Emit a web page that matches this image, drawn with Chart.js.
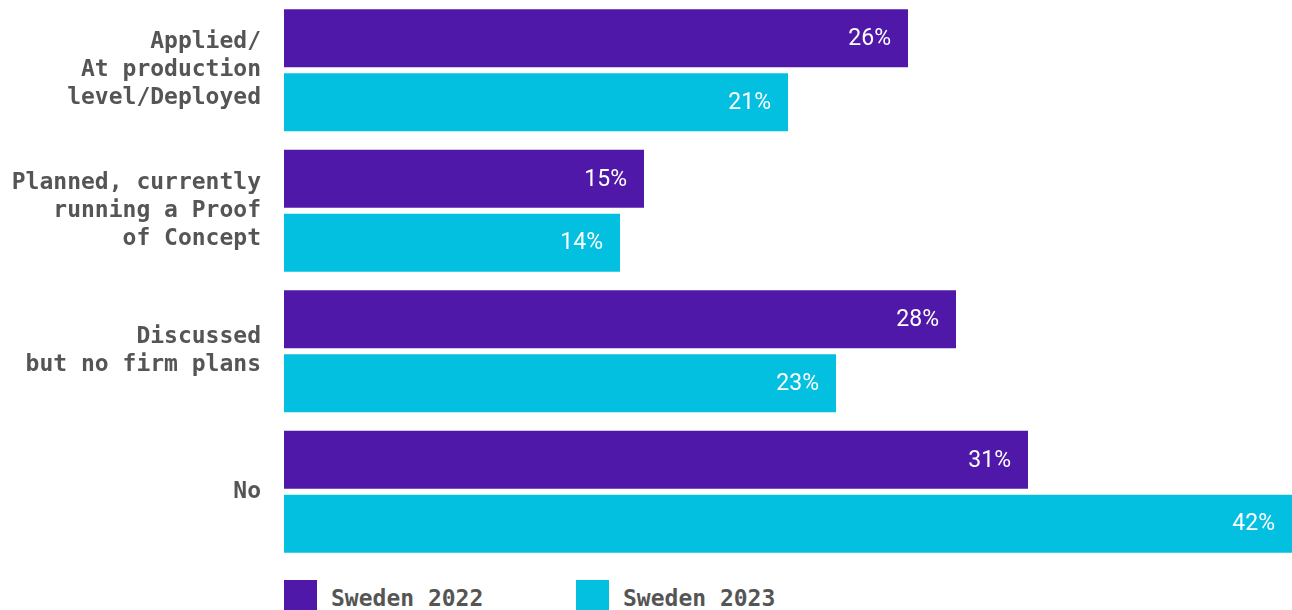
<!DOCTYPE html>
<html>
<head>
<meta charset="utf-8">
<script src="https://cdn.jsdelivr.net/npm/chart.js@4"></script>
<style>
  html, body { margin: 0; padding: 0; background: #fff; }
  #wrap { position: relative; width: 1292px; height: 610px; overflow: hidden; }
  #box { position: absolute; left: 0; top: 0; width: 1292px; height: 562px; }
  #legend { position: absolute; left: 284px; top: 580px; display: flex; }
  .item { display: flex; align-items: flex-start; }
  .swatch { width: 33px; height: 33px; }
  .txt { font: bold 23px 'DejaVu Sans Mono', monospace; color: #555; margin-left: 14px; line-height: 33px; margin-top: 2px; }
</style>
</head>
<body>
<div id="wrap">
  <div id="box"><canvas id="chart"></canvas></div>
  <div id="legend"></div>
</div>
<script>
// categories (multi-line labels) and values, in percent
const categories = [
  ['Applied/', 'At production', 'level/Deployed'],
  ['Planned, currently', 'running a Proof', 'of Concept'],
  ['Discussed', 'but no firm plans'],
  ['No']
];
const sweden2022 = [26, 15, 28, 31];
const sweden2023 = [21, 14, 23, 42];
const seriesNames = ['Sweden 2022', 'Sweden 2023'];
const colors = ['#5018a8', '#03bfe0'];

// draws the value at the inner end of each bar
const valueLabels = {
  id: 'valueLabels',
  afterDatasetsDraw(chart) {
    const ctx = chart.ctx;
    ctx.save();
    ctx.font = '23px Roboto, sans-serif';
    ctx.fillStyle = '#fff';
    ctx.textAlign = 'right';
    ctx.textBaseline = 'middle';
    chart.data.datasets.forEach((ds, i) => {
      const meta = chart.getDatasetMeta(i);
      meta.data.forEach((bar, j) => {
        ctx.fillText(ds.data[j] + '%', bar.x - 17, bar.y + 1);
      });
    });
    ctx.restore();
  }
};

const chart = new Chart(document.getElementById('chart'), {
  type: 'bar',
  data: {
    labels: categories,
    datasets: [
      { label: seriesNames[0], data: sweden2022, backgroundColor: colors[0] },
      { label: seriesNames[1], data: sweden2023, backgroundColor: colors[1] }
    ]
  },
  options: {
    indexAxis: 'y',
    responsive: true,
    maintainAspectRatio: false,
    animation: false,
    layout: { padding: 0 },
    categoryPercentage: 0.911,
    barPercentage: 0.906,
    plugins: {
      legend: { display: false },
      tooltip: { enabled: false }
    },
    scales: {
      x: { display: false, min: 0, max: 42 },
      y: {
        grid: { display: false, drawTicks: false },
        border: { display: false },
        afterFit(scale) {
          scale.width = 284;
          scale.paddingTop = 0;
          scale.paddingBottom = 0;
        },
        ticks: {
          padding: 23,
          color: '#555',
          font: { family: "'DejaVu Sans Mono', monospace", size: 23, weight: 'bold', lineHeight: 1.22 }
        }
      }
    }
  },
  plugins: [valueLabels]
});

// legend built from the datasets
const legend = document.getElementById('legend');
chart.data.datasets.forEach((ds, i) => {
  const item = document.createElement('div');
  item.className = 'item';
  item.style.width = i === 0 ? '292px' : 'auto';
  item.innerHTML = '<div class="swatch" style="background:' + ds.backgroundColor + '"></div>' +
    '<div class="txt">' + ds.label + '</div>';
  legend.appendChild(item);
});
</script>
</body>
</html>
